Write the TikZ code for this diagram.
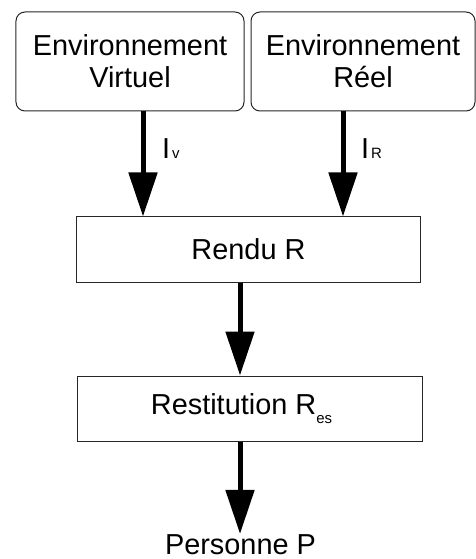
\documentclass[tikz,border=0pt]{standalone}
\usepackage{fontspec}
\setmainfont{Liberation Sans}
\usetikzlibrary{arrows.meta}
\begin{document}
\begin{tikzpicture}[x=1bp,y=-1bp,
  txt/.style={font=\fontsize{29}{32}\selectfont},
  envbox/.style={txt, draw=black!85, line width=1bp, rounded corners=9bp, inner sep=0pt, align=center, minimum height=99bp},
  rectbox/.style={txt, draw=black!85, line width=1bp, inner sep=0pt, minimum height=65bp},
  lbl/.style={txt, inner sep=0pt},
  bigarrow/.style={line width=5bp, -{Triangle[length=44bp,width=28bp]}}
]
\useasboundingbox (0,0) rectangle (476,559);
\node[envbox, minimum width=228bp] (ev) at (130,61.5) {Environnement\\Virtuel};
\node[envbox, minimum width=224bp] (er) at (363,61.5) {Environnement\\Réel};
\node[rectbox, minimum width=343bp] (rendu) at (248.5,249.5) {Rendu R};
\node[rectbox, minimum width=344bp] (rest) at (250,408.5) {Restitution R\raisebox{-9bp}{\fontsize{15}{15}\selectfont es}\hspace*{17bp}};
\node[lbl, anchor=base] (pers) at (240.5,554) {Personne P};
\node[lbl, anchor=base west] (iv) at (162,159) {I\kern2bp{\fontsize{15}{15}\selectfont v}};
\node[lbl, anchor=base west] (ir) at (361,159) {I\kern2bp{\fontsize{15}{15}\selectfont R}};
\coordinate (xa) at (143,0);
\coordinate (xb) at (343,0);
\coordinate (xc) at (240,0);
\draw[bigarrow] (xa |- ev.south) -- (xa |- rendu.north);
\draw[bigarrow] (xb |- er.south) -- (xb |- rendu.north);
\draw[bigarrow] (xc |- rendu.south) -- (xc |- rest.north);
\draw[bigarrow] (xc |- rest.south) -- (xc |- pers.north);
\end{tikzpicture}
\end{document}
